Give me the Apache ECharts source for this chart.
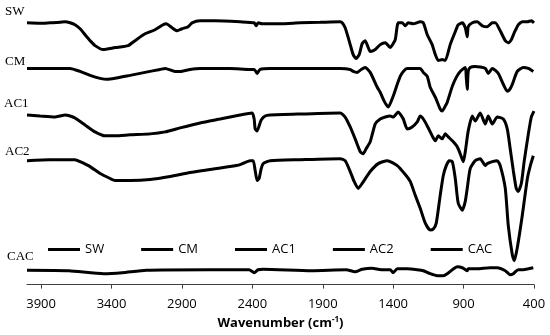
<!DOCTYPE html>
<html>
<head>
<meta charset="utf-8">
<script src="https://cdn.jsdelivr.net/npm/echarts@6/dist/echarts.min.js"></script>
<style>html,body{margin:0;padding:0;background:#fff}#c{width:550px;height:335px}</style>
</head>
<body>
<div id="c"></div>
<script>
// ---- data (wavenumber in cm-1, transmittance in arbitrary offset units) ----
const seriesNames = ['SW', 'CM', 'AC1', 'AC2', 'CAC'];
const xTicks = [3900, 3400, 2900, 2400, 1900, 1400, 900, 400];

const swWn = [4000,3908,3837,3766,3730,3694,3659,3623,3588,3552,3517,3460,3375,3282,3233,3162,3091,3034,3012,2970,2934,2899,2856,2828,2771,2664,2487,2387,2373,2359,2330,2202,2060,1918,1776,1762,1741,1719,1705,1684,1663,1641,1620,1599,1577,1563,1527,1492,1456,1421,1400,1385,1364,1336,1314,1293,1258,1208,1186,1158,1123,1101,1080,1052,1030,995,959,938,909,888,874,867,838,803,767,732,696,675,640,604,583,561,540,512,483,447,419,400];
const swT  = [264,263.5,264,264.5,265,264,262,258,252,246,241,237,239,241,246,253,257,262,263,259,256,258,260,264,266,266,265,264,261,264,263,263,264,264.5,265,264,259,249,242,232,228,232,243,246,239,235,237,242,244,239,243,247,264,264,261,264,263,265,264,252,242,232,226,227,226,242,255,262,264,259,250,260,264,265,261,260,264,264,256,246,244,247,254,262,265,265,266,264];

const cmWn = [4000,3908,3766,3694,3623,3552,3481,3432,3375,3268,3162,3055,3019,2949,2913,2842,2771,2558,2416,2387,2366,2345,2274,2060,1776,1705,1684,1655,1627,1599,1563,1513,1492,1464,1435,1400,1371,1350,1328,1300,1208,1186,1158,1137,1101,1066,1052,1030,1016,980,952,924,888,881,874,867,853,817,746,725,696,654,618,590,576,554,519,476,440,405];
const cmT  = [218,218,218,218,215,211,208,207,208,211,214,217,218,215,215,217,218,218,217,217,213,217,218,218,218,217,215,214,217,219,214,199,194,185,179,190,202,210,215,218,218,214,210,199,189,177,175,180,184,200,209,215,219,209,197,215,219,220,218,213,218,213,202,195,196,202,215,219,218,215];

const ac1Wn = [4000,3908,3801,3766,3730,3694,3659,3588,3517,3446,3375,3268,3126,3019,2913,2771,2629,2487,2401,2387,2380,2366,2352,2337,2309,2274,2060,1776,1741,1705,1670,1634,1613,1592,1563,1527,1492,1456,1421,1400,1364,1350,1328,1300,1265,1229,1208,1186,1158,1123,1101,1080,1052,1030,1009,973,945,924,902,888,867,838,817,782,746,725,696,661,618,590,569,547,526,512,490,469,440,419,400];
const ac1T  = [171,170,169,170,171,170,168,161,154,150,150,151,152,154,158,163,167,171,173,167,157,155,160,166,170,171,172,173,169,159,147,134,132,137,144,162,167,169,170,169,174,172,167,157,159,164,170,167,160,150,145,150,147,152,149,144,139,132,124,134,155,170,165,173,162,170,162,169,167,157,137,115,97,94,102,125,152,169,175];

const ac2Wn = [4000,3837,3659,3623,3552,3481,3410,3375,3268,3126,2984,2842,2700,2558,2487,2416,2394,2380,2366,2352,2337,2323,2274,2060,1776,1741,1705,1677,1648,1620,1563,1506,1442,1371,1314,1279,1243,1208,1172,1137,1115,1094,1066,1044,1023,1002,980,959,938,909,888,874,853,817,782,746,732,696,661,640,604,583,554,540,519,483,447,426,405];
const ac2T  = [125,126,126,124,119,112,107,105,105,106,109,113,116,119,121,125,125,115,105,107,117,122,125,126,127,125,114,104,97,102,114,122,125,120,111,104,90,77,62,55,56,62,90,110,120,125,124,107,82,75,84,97,117,125,127,120,122,124,125,120,97,60,30,24,37,70,107,120,130];

const cacWn = [4000,3702,3455,3324,3154,2706,2423,2387,2359,2323,1982,1734,1670,1620,1549,1485,1421,1400,1371,1300,1229,1186,1137,1087,1044,1016,980,945,909,874,867,803,711,661,604,569,547,512,476,440,405];
const cacT  = [14.5,14,11,12,14.5,15,15,12,15,15.5,14,15,13,15.5,16.5,15,15,12,16,16,15,14,11,9,9,11,15,18,17,14,16,16,17,17,14,10,11,15,15,16,17];

// label annotations (name text placed at left of each trace)
const labelPos = [[5, 12], [5, 62], [4, 104], [5, 152], [7, 257]];

// ---- build ----
const zip = (a, b) => a.map((v, i) => [v, b[i]]);
const seriesData = [zip(swWn, swT), zip(cmWn, cmT), zip(ac1Wn, ac1T), zip(ac2Wn, ac2T), zip(cacWn, cacT)];

const chart = echarts.init(document.getElementById('c'), null, {renderer: 'canvas'});
const sansFont = '"Open Sans", "Noto Sans", sans-serif';
chart.setOption({
  animation: false,
  backgroundColor: '#ffffff',
  grid: {left: 27, right: 16, top: 0, bottom: 48, containLabel: false},
  xAxis: {
    type: 'value', min: 400, max: 4000, inverse: true, interval: 500,
    axisLine: {show: true, lineStyle: {color: '#404040', width: 1}},
    axisTick: {show: true, length: 4, inside: false, customValues: xTicks, lineStyle: {color: '#404040'}},
    axisLabel: {customValues: xTicks, formatter: v => String(v), color: '#000', fontSize: 13, fontFamily: sansFont, margin: 13},
    splitLine: {show: false},
    name: '{a|Wavenumber (cm}{b|-1}{a|)}',
    nameLocation: 'middle', nameGap: 30,
    nameTextStyle: {
      rich: {
        a: {fontSize: 13, fontWeight: 'bold', fontFamily: sansFont, color: '#000', lineHeight: 16},
        b: {fontSize: 8, fontWeight: 'bold', fontFamily: sansFont, color: '#000', verticalAlign: 'top', lineHeight: 16, padding: [0, 0, 6, 0]}
      }
    }
  },
  yAxis: {type: 'value', min: 0, max: 287, show: false},
  legend: {
    data: seriesNames, left: 43, top: 238, icon: 'rect', itemWidth: 32, itemHeight: 3, itemGap: 37,
    textStyle: {color: '#000', fontSize: 13, fontFamily: sansFont}
  },
  series: seriesNames.map((n, i) => ({
    name: n, type: 'line', data: seriesData[i], symbol: 'none', smooth: 0.2,
    lineStyle: {color: '#000', width: 3}, itemStyle: {color: '#000'}, z: 3
  })),
  graphic: seriesNames.map((n, i) => ({
    type: 'text', x: labelPos[i][0], y: labelPos[i][1],
    style: {text: n, font: '13px "Liberation Serif", serif', fill: '#000', verticalAlign: 'middle', align: 'left'}
  }))
});
</script>
</body>
</html>
